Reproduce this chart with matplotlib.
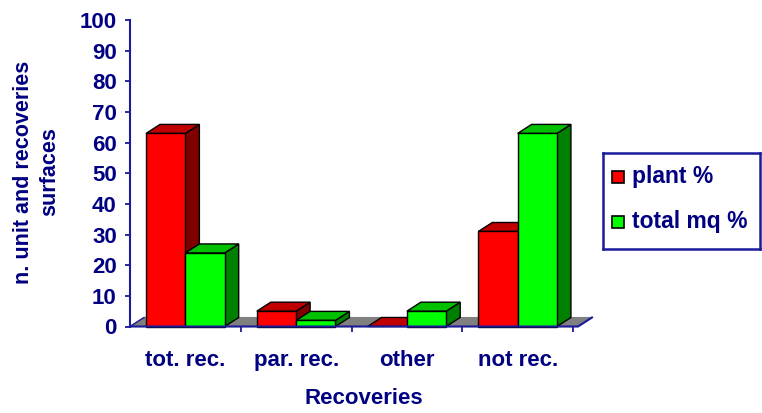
import matplotlib
matplotlib.use("Agg")
import matplotlib.pyplot as plt
from matplotlib.patches import Polygon

# Data
categories = ["tot. rec.", "par. rec.", "other", "not rec."]
series_names = ["plant %", "total mq %"]
plant_pct = [63, 5, 0, 31]
total_mq_pct = [24, 2, 5, 63]
y_ticks = list(range(0, 101, 10))

W, H = 762, 413
fig = plt.figure(figsize=(W / 100, H / 100), dpi=100)
fig.patch.set_facecolor("white")

NAVY = "#000080"
AXIS = "#1a1a9a"
FONT = "Liberation Sans"

# axes frame in pixel terms: y axis at x=130, baseline at y=326.5, top (100) at y=20
left_px, right_px, bottom_px, top_px = 130, 573, 326.5, 20
ax = fig.add_axes([left_px / W, (H - bottom_px) / H,
                   (right_px - left_px) / W, (bottom_px - top_px) / H])
ax.set_xlim(-0.5, 3.5)
ax.set_ylim(0, 100)
ax.set_facecolor("none")

# depth offset of the pseudo-3D boxes, in data units
px_per_x = (right_px - left_px) / 4.0
px_per_y = (bottom_px - top_px) / 100.0
dx = 14 / px_per_x
dy = 9 / px_per_y
bw = 0.355

face_cols = {
    0: ("#ff0000", "#c00000", "#800000"),
    1: ("#00ff00", "#00c000", "#008000"),
}

# floor
x_end = 3.5 + 5 / px_per_x
floor = Polygon([(-0.5, 0), (x_end, 0), (x_end + dx, dy), (-0.5 + dx, dy)],
                closed=True, facecolor="#808080", edgecolor="#808080",
                lw=0.8, clip_on=False, zorder=1)
ax.add_patch(floor)


def draw_box(x0, h, cols, z):
    front, top, side = cols
    x1 = x0 + bw
    # side face
    ax.add_patch(Polygon([(x1, 0), (x1 + dx, dy), (x1 + dx, h + dy), (x1, h)],
                         closed=True, facecolor=side, edgecolor="black",
                         lw=1.0, clip_on=False, zorder=z))
    # top face
    ax.add_patch(Polygon([(x0, h), (x1, h), (x1 + dx, h + dy), (x0 + dx, h + dy)],
                         closed=True, facecolor=top, edgecolor="black",
                         lw=1.0, clip_on=False, zorder=z))
    # front face
    if h > 0:
        ax.add_patch(Polygon([(x0, 0), (x1, 0), (x1, h), (x0, h)],
                             closed=True, facecolor=front, edgecolor="black",
                             lw=1.0, clip_on=False, zorder=z))


z = 2
for i in range(len(categories)):
    for s, vals in enumerate([plant_pct, total_mq_pct]):
        x0 = i - bw + s * bw
        draw_box(x0, vals[i], face_cols[s], z)
        z += 1

# axes styling
for sp in ["top", "right", "bottom"]:
    ax.spines[sp].set_visible(False)
ax.spines["left"].set_color(AXIS)
ax.spines["left"].set_linewidth(1.5)
ax.spines["left"].set_zorder(50)

# baseline and floor edges in axis colour
ax.plot([-0.5, x_end, x_end + dx], [0, 0, dy], color=AXIS, lw=1.5,
        clip_on=False, zorder=50, solid_joinstyle="miter")
ax.plot([-0.5, -0.5 + dx], [0, dy], color=AXIS, lw=1.0, clip_on=False, zorder=50)

ax.set_yticks(y_ticks)
ax.set_yticklabels([str(t) for t in y_ticks])
ax.tick_params(axis="y", direction="out", length=3.5, width=1.3, color=AXIS,
               pad=6, labelcolor=NAVY, labelsize=16)
ax.set_xticks(range(len(categories)))
ax.set_xticklabels(categories)
ax.set_xticks([0.5, 1.5, 2.5, 3.5], minor=True)
ax.tick_params(axis="x", which="major", length=0, pad=17, labelcolor=NAVY,
               labelsize=16)
ax.tick_params(axis="x", which="minor", direction="out", length=3.5, width=1.3,
               color=AXIS)
for lab in ax.get_xticklabels() + ax.get_yticklabels():
    lab.set_fontfamily(FONT)
    lab.set_fontweight("bold")

# axis titles
fig.text(363.5 / W, 1 - 398 / H, "Recoveries", ha="center", va="center",
         color=NAVY, fontsize=16, fontweight="bold", family=FONT)
fig.text(36.5 / W, 1 - 172 / H, "n. unit and recoveries\nsurfaces",
         ha="center", va="center", rotation=90, multialignment="center",
         color=NAVY, fontsize=15.5, fontweight="bold", family=FONT,
         linespacing=1.35)

# legend box
lx0, ly0, lx1, ly1 = 603, 153, 760, 249
lax = fig.add_axes([lx0 / W, 1 - ly1 / H, (lx1 - lx0) / W, (ly1 - ly0) / H])
lax.set_xlim(lx0, lx1)
lax.set_ylim(ly1, ly0)
lax.set_xticks([])
lax.set_yticks([])
for sp in lax.spines.values():
    sp.set_color(AXIS)
    sp.set_linewidth(1.8)
for name, cols, yc in zip(series_names, [face_cols[0], face_cols[1]], [177, 222]):
    lax.add_patch(plt.Rectangle((612, yc - 6), 12, 12, facecolor=cols[0],
                                edgecolor="black", lw=1.2))
    lax.text(632, yc, name, ha="left", va="center", color=NAVY,
             fontsize=16.5, fontweight="bold", family=FONT)

fig.savefig("out.png", dpi=100, facecolor="white")
